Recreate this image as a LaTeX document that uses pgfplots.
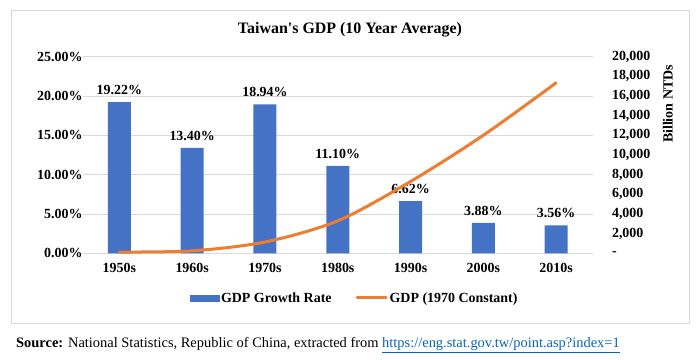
\documentclass[border=0pt]{standalone}
\usepackage{pgfplots}
\pgfplotsset{compat=1.18}
\usepackage{fontspec}
\setmainfont{Liberation Serif}
\definecolor{barblue}{RGB}{68,114,196}
\definecolor{lineorange}{RGB}{237,125,49}
\definecolor{gridgray}{RGB}{217,217,217}
\definecolor{linkblue}{RGB}{5,99,193}
\begin{document}
\begin{tikzpicture}[x=1bp,y=1bp]
\useasboundingbox (0,0) rectangle (700,359);
\draw[gridgray, line width=0.8bp] (11,36) rectangle (689,349);
\node[font=\bfseries\fontsize{16}{18}\selectfont] at (350,329) {Taiwan\textquotesingle s GDP (10 Year Average)};
\begin{axis}[
  at={(83bp,105.7bp)}, anchor=south west,
  scale only axis, width=509.5bp, height=196.7bp,
  xmin=-0.5, xmax=6.5, ymin=0, ymax=25,
  axis y line*=left, axis x line*=bottom,
  axis line style={draw=none},
  xtick={0,1,2,3,4,5,6},
  xticklabels={1950s,1960s,1970s,1980s,1990s,2000s,2010s},
  ytick={0,5,10,15,20,25},
  yticklabel={\pgfmathprintnumber[fixed,fixed zerofill,precision=2]{\tick}\%},
  /pgf/number format/assume math mode=true,
  ticklabel style={font=\bfseries\fontsize{14}{16}\selectfont},
  xticklabel style={yshift=-6bp},
  yticklabel style={xshift=3bp},
  major tick length=0pt,
  ymajorgrids, grid style={gridgray, line width=0.8bp},
  ybar, bar width=23bp,
  nodes near coords={\pgfmathprintnumber[fixed,fixed zerofill,precision=2]{\pgfplotspointmeta}\%},
  every node near coord/.append style={font=\bfseries\fontsize{14}{16}\selectfont, black, yshift=4bp},
]
\addplot[fill=barblue, draw=none] coordinates {(0,19.22) (1,13.40) (2,18.94) (3,11.10) (4,6.62) (5,3.88) (6,3.56)};
\end{axis}
\begin{axis}[
  at={(83bp,105.7bp)}, anchor=south west,
  scale only axis, width=509.5bp, height=196.7bp,
  xmin=-0.5, xmax=6.5, ymin=0, ymax=20000,
  axis y line*=right, axis x line=none,
  axis line style={draw=none},
  scaled y ticks=false,
  ytick={0,2000,4000,6000,8000,10000,12000,14000,16000,18000,20000},
  yticklabels={-,{2,000},{4,000},{6,000},{8,000},{10,000},{12,000},{14,000},{16,000},{18,000},{20,000}},
  yticklabel style={font=\bfseries\fontsize{14}{16}\selectfont, xshift=16bp},
  major tick length=0pt,
  ylabel={Billion NTDs},
  ylabel style={font=\bfseries\fontsize{14}{16}\selectfont, at={(rel axis cs:1.148,0.759)}, anchor=center},
  legend style={at={(0.533,-0.227)}, anchor=center, draw=none, fill=none,
    legend columns=2, font=\bfseries\fontsize{14}{16}\selectfont,
    /tikz/every even column/.append style={column sep=22bp},
    nodes={inner xsep=2bp}},
]
\addlegendimage{legend image code/.code={\fill[barblue] (0bp,-3bp) rectangle (29bp,3bp);}}
\addlegendentry{GDP Growth Rate}
\addplot[lineorange, line width=3bp, smooth, line cap=round,
  legend image code/.code={\draw[lineorange, line width=3bp] (0bp,0bp) -- (29bp,0bp);}]
  coordinates {(0,130) (1,250) (2,1150) (3,3300) (4,7300) (5,12000) (6,17330)};
\addlegendentry{GDP (1970 Constant)}
\end{axis}
\node[anchor=west, font=\fontsize{14.5}{16}\selectfont, inner sep=0] at (16,14)
  {\textbf{Source:} National Statistics, Republic of China, extracted from \textcolor{linkblue}{\underline{https://eng.stat.gov.tw/point.asp?index=1}}};
\end{tikzpicture}
\end{document}
